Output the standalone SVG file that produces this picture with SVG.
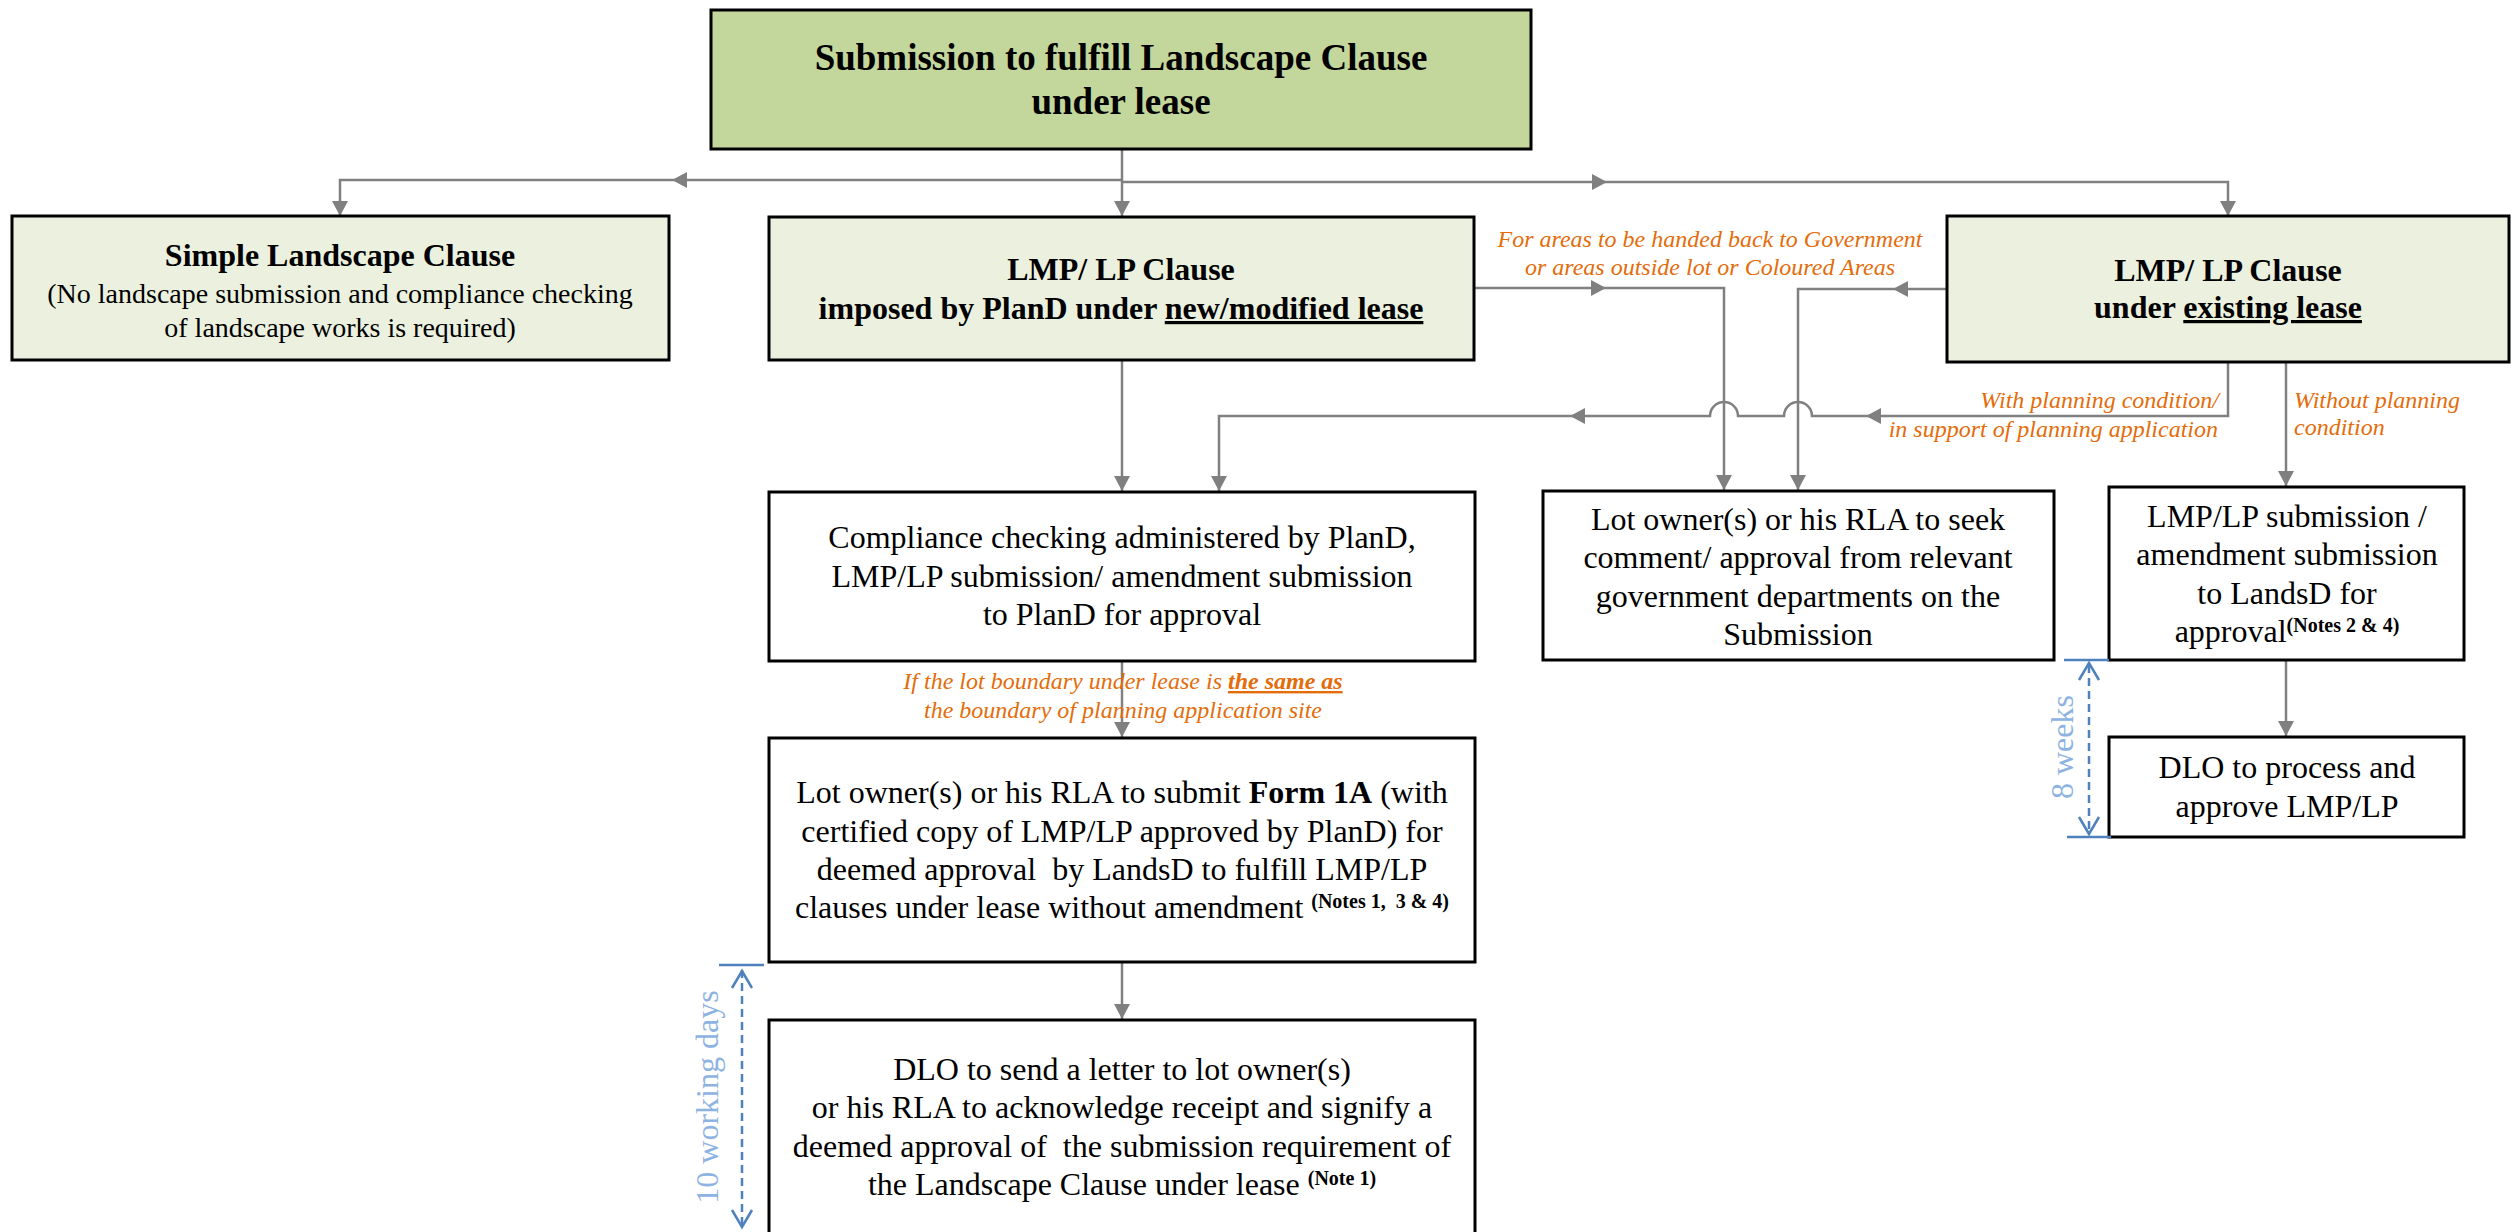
<svg xmlns="http://www.w3.org/2000/svg" width="2511" height="1232" viewBox="0 0 2511 1232">
<defs>
<style>
.box{stroke:#000;stroke-width:3}
.g1{fill:#C3D69B}
.g2{fill:#EBF1DE}
.w{fill:#fff}
text{font-family:"Liberation Serif","Times New Roman",serif;fill:#000}
.t{font-size:32px;text-anchor:middle}
.t36{font-size:37px}
.t28{font-size:28px}
.b{font-weight:bold}
.u{text-decoration:underline}
.sup{font-size:20px;font-weight:bold}
.lbl{font-size:24px;font-style:italic;fill:#E46C0A}
.c{fill:none;stroke:#808080;stroke-width:2.5}
.dim{fill:none;stroke:#4F81BD;stroke-width:2.5}
.dash{stroke-dasharray:8 5}
.dimt{font-size:32px;fill:#8DB3E2;text-anchor:middle}
</style>
<marker id="arr" viewBox="0 0 15 16" refX="15" refY="8" markerWidth="15" markerHeight="16" markerUnits="userSpaceOnUse" orient="auto"><path d="M0,0L15,8L0,16Z" fill="#808080"/></marker>
<path id="mid" d="M0,0L-15,-8L-15,8Z" fill="#808080"/>
</defs>
<rect width="2511" height="1232" fill="#fff"/>

<g id="connectors">
<path class="c" d="M1122,149V216" marker-end="url(#arr)"/>
<path class="c" d="M1122,180H340V216" marker-end="url(#arr)"/>
<use href="#mid" transform="translate(672,180) rotate(180)"/>
<path class="c" d="M1122,182H2228V216" marker-end="url(#arr)"/>
<use href="#mid" transform="translate(1607,182)"/>
<path class="c" d="M1474,288H1724V490" marker-end="url(#arr)"/>
<use href="#mid" transform="translate(1606,288)"/>
<path class="c" d="M1947,289H1798V490" marker-end="url(#arr)"/>
<use href="#mid" transform="translate(1893,289) rotate(180)"/>
<path class="c" d="M2228,362V416H1812A14,14 0 0 0 1784,416H1738A14,14 0 0 0 1710,416H1219V491" marker-end="url(#arr)"/>
<use href="#mid" transform="translate(1866,416) rotate(180)"/>
<use href="#mid" transform="translate(1570,416) rotate(180)"/>
<path class="c" d="M2286,362V486" marker-end="url(#arr)"/>
<path class="c" d="M1122,360V491" marker-end="url(#arr)"/>
<path class="c" d="M1122,661V737" marker-end="url(#arr)"/>
<path class="c" d="M1122,962V1019" marker-end="url(#arr)"/>
<path class="c" d="M2286,660V736" marker-end="url(#arr)"/>
</g>

<g id="labels">
<text class="lbl" x="1710" y="247" text-anchor="middle">For areas to be handed back to Government</text>
<text class="lbl" x="1710" y="275" text-anchor="middle">or areas outside lot or Coloured Areas</text>
<text class="lbl" x="2219" y="408" text-anchor="end">With planning condition/</text>
<text class="lbl" x="2218" y="437" text-anchor="end">in support of planning application</text>
<text class="lbl" x="2294" y="408">Without planning</text>
<text class="lbl" x="2294" y="435">condition</text>
<text class="lbl" x="1123" y="689" text-anchor="middle">If the lot boundary under lease is <tspan font-weight="bold" class="u">the same as</tspan></text>
<text class="lbl" x="1123" y="718" text-anchor="middle">the boundary of planning application site</text>
</g>

<g id="n-top">
<rect class="box g1" x="711" y="10" width="820" height="139"/>
<text class="t t36 b" x="1121" y="70">Submission to fulfill Landscape Clause</text>
<text class="t t36 b" x="1121" y="114">under lease</text>
</g>

<g id="n-simple">
<rect class="box g2" x="12" y="216" width="657" height="144"/>
<text class="t b" x="340" y="266">Simple Landscape Clause</text>
<text class="t t28" x="340" y="303">(No landscape submission and compliance checking</text>
<text class="t t28" x="340" y="337">of landscape works is required)</text>
</g>

<g id="n-new">
<rect class="box g2" x="769" y="217" width="705" height="143"/>
<text class="t b" x="1121" y="280">LMP/ LP Clause</text>
<text class="t b" x="1121" y="319">imposed by PlanD under <tspan class="u">new/modified lease</tspan></text>
</g>

<g id="n-existing">
<rect class="box g2" x="1947" y="216" width="562" height="146"/>
<text class="t b" x="2228" y="281">LMP/ LP Clause</text>
<text class="t b" x="2228" y="318">under <tspan class="u">existing lease</tspan></text>
</g>

<g id="n-compliance">
<rect class="box w" x="769" y="492" width="706" height="169"/>
<text class="t" x="1122" y="548">Compliance checking administered by PlanD,</text>
<text class="t" x="1122" y="587">LMP/LP submission/ amendment submission</text>
<text class="t" x="1122" y="625">to PlanD for approval</text>
</g>

<g id="n-seek">
<rect class="box w" x="1543" y="491" width="511" height="169"/>
<text class="t" x="1798" y="530">Lot owner(s) or his RLA to seek</text>
<text class="t" x="1798" y="568">comment/ approval from relevant</text>
<text class="t" x="1798" y="607">government departments on the</text>
<text class="t" x="1798" y="645">Submission</text>
</g>

<g id="n-lmpsub">
<rect class="box w" x="2109" y="487" width="355" height="173"/>
<text class="t" x="2287" y="527">LMP/LP submission /</text>
<text class="t" x="2287" y="565">amendment submission</text>
<text class="t" x="2287" y="604">to LandsD for</text>
<text class="t" x="2287" y="642">approval<tspan class="sup" dy="-10">(Notes 2 &amp; 4)</tspan></text>
</g>

<g id="n-dloproc">
<rect class="box w" x="2109" y="737" width="355" height="100"/>
<text class="t" x="2287" y="778">DLO to process and</text>
<text class="t" x="2287" y="817">approve LMP/LP</text>
</g>

<g id="n-form1a">
<rect class="box w" x="769" y="738" width="706" height="224"/>
<text class="t" x="1122" y="803">Lot owner(s) or his RLA to submit <tspan class="b">Form 1A</tspan> (with</text>
<text class="t" x="1122" y="842">certified copy of LMP/LP approved by PlanD) for</text>
<text class="t" x="1122" y="880" xml:space="preserve">deemed approval  by LandsD to fulfill LMP/LP</text>
<text class="t" x="1122" y="918" xml:space="preserve">clauses under lease without amendment <tspan class="sup" dy="-10">(Notes 1,  3 &amp; 4)</tspan></text>
</g>

<g id="n-dlo">
<rect class="box w" x="769" y="1020" width="706" height="240"/>
<text class="t" x="1122" y="1080">DLO to send a letter to lot owner(s)</text>
<text class="t" x="1122" y="1118">or his RLA to acknowledge receipt and signify a</text>
<text class="t" x="1122" y="1157" xml:space="preserve">deemed approval of  the submission requirement of</text>
<text class="t" x="1122" y="1195">the Landscape Clause under lease <tspan class="sup" dy="-10">(Note 1)</tspan></text>
</g>

<g id="dim-8weeks">
<path class="dim" d="M2064,660H2109M2067,837H2111"/>
<path class="dim dash" d="M2089,665V833"/>
<path class="dim" d="M2079,680L2089,663L2099,680M2079,817L2089,834L2099,817"/>
<text class="dimt" transform="translate(2073,747) rotate(-90)">8 weeks</text>
</g>

<g id="dim-10days">
<path class="dim" d="M719,965H764"/>
<path class="dim dash" d="M742,970V1226"/>
<path class="dim" d="M732,988L742,971L752,988M732,1210L742,1227L752,1210"/>
<text class="dimt" transform="translate(718,1097) rotate(-90)">10 working days</text>
</g>
</svg>
